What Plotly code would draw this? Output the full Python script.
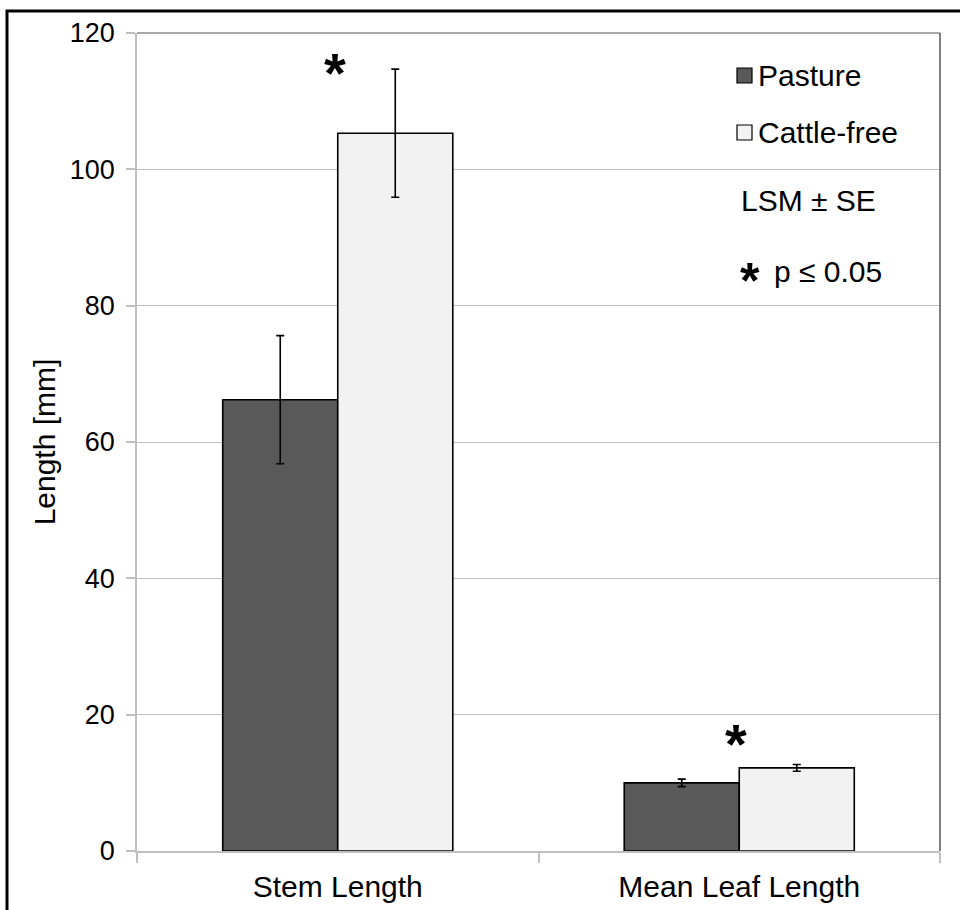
import plotly.graph_objects as go

categories = ["Stem Length", "Mean Leaf Length"]
pasture = [66.2, 10.0]
pasture_se = [9.4, 0.55]
cattle_free = [105.3, 12.2]
cattle_free_se = [9.4, 0.5]
series_names = ["Pasture", "Cattle-free"]
y_ticks = [0, 20, 40, 60, 80, 100, 120]
sig_markers = ["*", "*"]
sig_heights = [115.4, 17.0]  # data y for asterisks (above bars)

W, H = 960, 910
L, R, T, B = 137, 20, 33, 59
PW, PH = W - L - R, H - T - B

def px(x):
    return (x - L) / PW

def py(y):
    return (H - B - y) / PH

FONT = "Liberation Sans, Arial, sans-serif"
FS = 30
AST = 56

fig = go.Figure()
fig.add_trace(go.Bar(
    x=categories, y=pasture, name=series_names[0],
    marker=dict(color="#595959", line=dict(color="#000000", width=1.6)),
    error_y=dict(type="data", array=pasture_se, color="#000000", thickness=1.6, width=4),
))
fig.add_trace(go.Bar(
    x=categories, y=cattle_free, name=series_names[1],
    marker=dict(color="#f2f2f2", line=dict(color="#000000", width=1.6)),
    error_y=dict(type="data", array=cattle_free_se, color="#000000", thickness=1.6, width=4),
))

annotations = []
for cat, mark, h in zip(categories, sig_markers, sig_heights):
    annotations.append(dict(
        x=cat, y=h, xref="x", yref="y", text="<b>%s</b>" % mark, showarrow=False,
        font=dict(family=FONT, size=AST, color="#000000"), yanchor="middle", xanchor="center",
        xshift=-3, yshift=-8,
    ))

# custom legend
legend_colors = ["#595959", "#f2f2f2"]
legend_y = [75.5, 132.5]
shapes = []
for name, col, ly in zip(series_names, legend_colors, legend_y):
    shapes.append(dict(type="rect", xref="paper", yref="paper",
                       x0=px(737), x1=px(752), y0=py(ly + 7.5), y1=py(ly - 7.5),
                       fillcolor=col, line=dict(color="#000000", width=1.2)))
    annotations.append(dict(x=px(756), y=py(ly), xref="paper", yref="paper", text=name,
                            showarrow=False, xanchor="left", yanchor="middle",
                            font=dict(family=FONT, size=FS, color="#000000")))
annotations.append(dict(x=px(739), y=py(201), xref="paper", yref="paper", text="LSM ± SE",
                        showarrow=False, xanchor="left", yanchor="middle",
                        font=dict(family=FONT, size=FS, color="#000000")))
annotations.append(dict(x=px(738), y=py(281), xref="paper", yref="paper", text="<b>*</b>",
                        showarrow=False, xanchor="left", yanchor="middle",
                        font=dict(family=FONT, size=AST - 6, color="#000000")))
annotations.append(dict(x=px(772), y=py(271), xref="paper", yref="paper", text="p ≤ 0.05",
                        showarrow=False, xanchor="left", yanchor="middle",
                        font=dict(family=FONT, size=FS, color="#000000")))

# plot-area border (top and right) and outer frame
shapes.append(dict(type="line", xref="paper", yref="paper", x0=0, x1=1, y0=1, y1=1,
                   line=dict(color="#8c8c8c", width=1.5)))
shapes.append(dict(type="line", xref="paper", yref="paper", x0=1, x1=1, y0=0, y1=1,
                   line=dict(color="#555555", width=1.5)))
shapes.append(dict(type="rect", xref="paper", yref="paper",
                   x0=px(7), x1=px(975), y0=py(925), y1=py(11),
                   line=dict(color="#000000", width=3)))

fig.update_layout(
    width=W, height=H,
    margin=dict(l=L, r=R, t=T, b=B, autoexpand=False),
    paper_bgcolor="#ffffff", plot_bgcolor="#ffffff",
    barmode="group", bargap=0.427, bargroupgap=0,
    showlegend=False,
    font=dict(family=FONT, size=FS, color="#000000"),
    annotations=annotations, shapes=shapes,
    xaxis=dict(
        type="category", showline=True, linecolor="#bfbfbf", linewidth=1.5,
        ticks="outside", ticklen=10, tickcolor="#bfbfbf", tickwidth=1.5,
        tickson="boundaries", showgrid=False, tickfont=dict(size=FS, color="#000000"),
        ticklabelstandoff=8,
    ),
    yaxis=dict(
        range=[0, 120], tickvals=y_ticks, showline=True, linecolor="#bfbfbf", linewidth=1.5,
        ticks="outside", ticklen=9, tickcolor="#bfbfbf", tickwidth=1.5,
        showgrid=True, gridcolor="#bfbfbf", gridwidth=1.2, zeroline=False,
        tickfont=dict(size=27, color="#000000"), ticklabelstandoff=6,
        title=dict(text="Length [mm]", font=dict(size=FS, color="#000000"), standoff=5),
    ),
)

fig.write_html("out.html")
